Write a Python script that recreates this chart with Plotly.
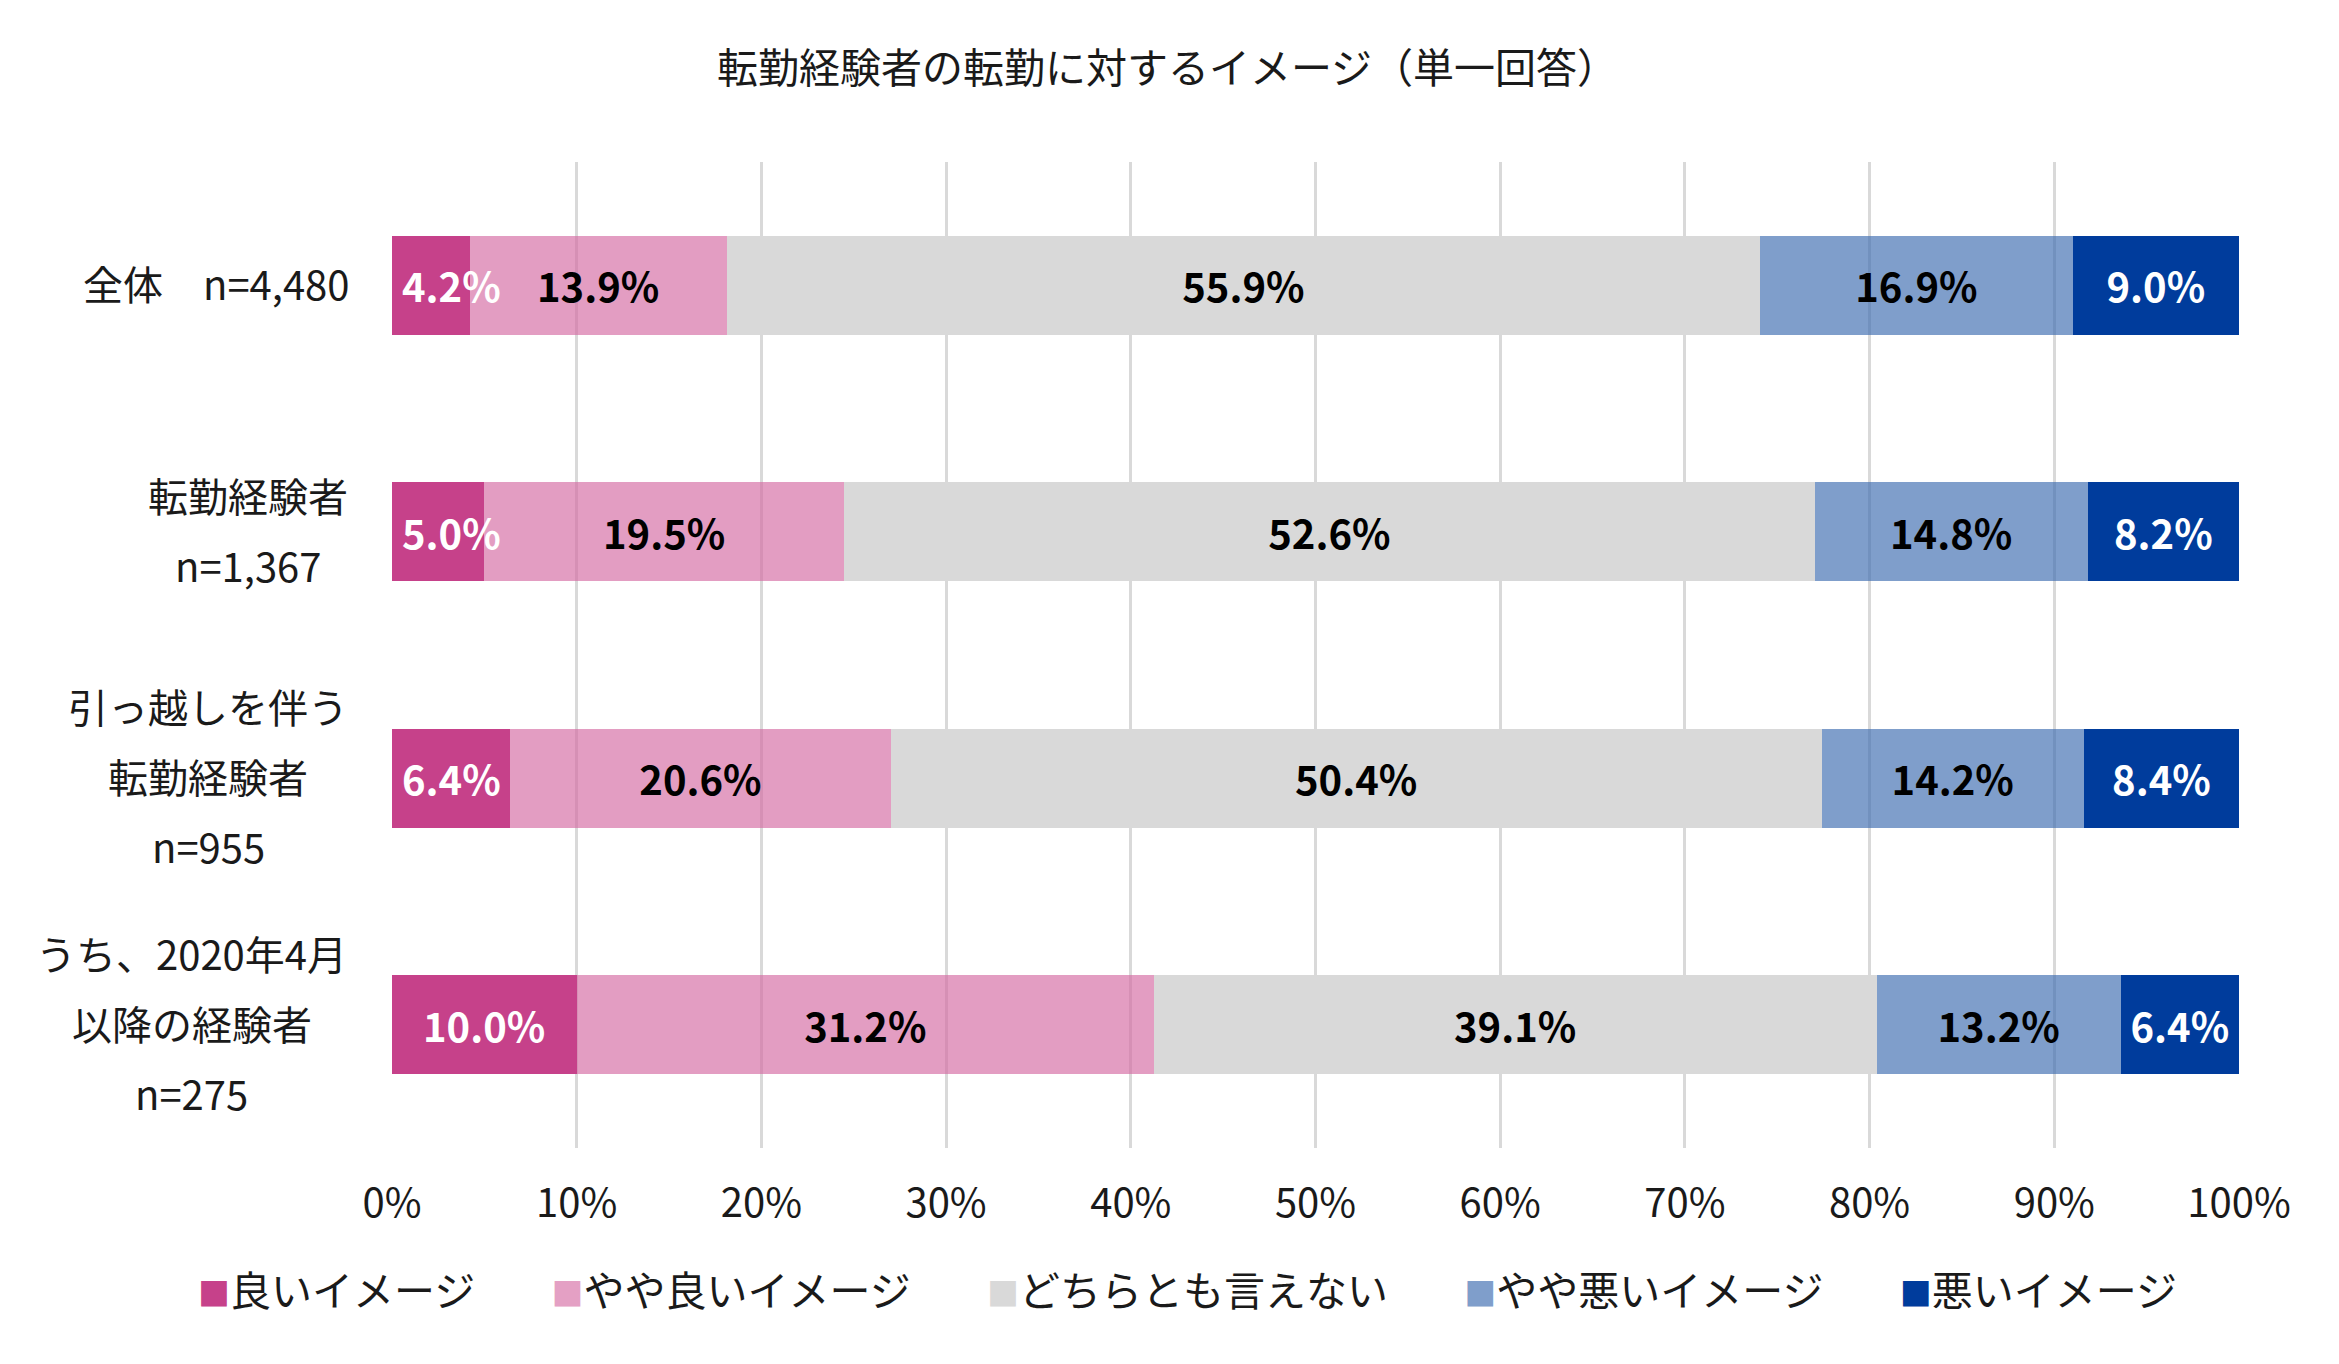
"""転勤経験者の転勤に対するイメージ（単一回答） - 100%積み上げ横棒."""
import plotly.graph_objects as go

TITLE = "転勤経験者の転勤に対するイメージ（単一回答）"

# カテゴリ（上から順）: 行ごとに分けたラベル
label_lines = [
    ["全体　n=4,480"],
    ["転勤経験者", "n=1,367"],
    ["引っ越しを伴う", "転勤経験者", "n=955"],
    ["うち、2020年4月", "以降の経験者", "n=275"],
]
categories = ["".join(lines) for lines in label_lines]

series_names = ["良いイメージ", "やや良いイメージ", "どちらとも言えない", "やや悪いイメージ", "悪いイメージ"]
good = [4.2, 5.0, 6.4, 10.0]
fairly_good = [13.9, 19.5, 20.6, 31.2]
neutral = [55.9, 52.6, 50.4, 39.1]
fairly_bad = [16.9, 14.8, 14.2, 13.2]
bad = [9.0, 8.2, 8.4, 6.4]

tick_values = [0, 10, 20, 30, 40, 50, 60, 70, 80, 90, 100]
tick_labels = ["0%", "10%", "20%", "30%", "40%", "50%", "60%", "70%", "80%", "90%", "100%"]

# 色: 棒(一部半透明でグリッドが透ける) / 凡例の四角 / ラベル文字
BAR_FILL = ["#C6418A", "rgba(212,104,161,0.65)", "#D9D9D9", "rgba(58,106,175,0.65)", "#003C9C"]
KEY_COLOR = ["#C6418A", "#E4A0C4", "#D9D9D9", "#7F9ECB", "#003C9C"]
LABEL_COLOR = ["#FFFFFF", "#000000", "#000000", "#000000", "#FFFFFF"]

FONT = "Noto Sans CJK JP"
TEXT_DARK = "#1a1a1a"

W, H = 2339, 1364
MARGIN = dict(l=384, r=108, t=154, b=224)
plot_w = W - MARGIN["l"] - MARGIN["r"]
plot_h = H - MARGIN["t"] - MARGIN["b"]

# カテゴリラベルの配置 (px)
LABEL_GAP = 44
LINE_STEP = 70
block_widths = [None, 200, 280, 313]
LABEL_FIT_PX = 100  # これより細い棒はラベルを左寄せ

fig = go.Figure()

values = [good, fairly_good, neutral, fairly_bad, bad]
for i, name in enumerate(series_names):
    fig.add_trace(
        go.Bar(
            x=values[i],
            y=categories,
            orientation="h",
            name=name,
            width=0.4,
            text=values[i],
            texttemplate="%{text:.1f}%",
            textposition="none" if i == 0 else "inside",
            insidetextanchor="middle",
            textangle=0,
            textfont=dict(family=FONT, size=40, color=LABEL_COLOR[i], weight="bold"),
            marker=dict(color=BAR_FILL[i], line=dict(width=0)),
            showlegend=False,
            hoverinfo="skip",
        )
    )

# 凡例: 大きめの四角を文字で描く
for i, name in enumerate(series_names):
    spacer = "" if i == len(series_names) - 1 else "\u2002\u2009\u200a"
    fig.add_trace(
        go.Scatter(
            x=[None],
            y=[None],
            mode="markers",
            marker=dict(color="rgba(0,0,0,0)", size=1),
            name=f"<span style='color:{KEY_COLOR[i]};font-size:32px'>■</span>{name}{spacer}",
            showlegend=True,
        )
    )

annotations = []

# 先頭系列のラベル: 収まらない場合は棒の左端から表示
for cat, v in zip(categories, good):
    fits = v / 100 * plot_w >= LABEL_FIT_PX
    annotations.append(
        dict(
            text=f"{v:.1f}%",
            x=v / 2 if fits else 0,
            xref="x",
            y=cat,
            yref="y",
            xanchor="center" if fits else "left",
            xshift=0 if fits else 8,
            yanchor="middle",
            showarrow=False,
            font=dict(family=FONT, size=40, color=LABEL_COLOR[0], weight="bold"),
        )
    )

for i, lines in enumerate(label_lines):
    n = len(lines)
    for j, line in enumerate(lines):
        yshift = ((n - 1) / 2 - j) * LINE_STEP + 2
        if block_widths[i] is None:
            xanchor, xshift = "right", -40
        else:
            xanchor, xshift = "center", -(LABEL_GAP + block_widths[i] / 2)
        annotations.append(
            dict(
                text=line,
                x=0,
                xref="paper",
                y=categories[i],
                yref="y",
                xanchor=xanchor,
                yanchor="middle",
                xshift=xshift,
                yshift=yshift,
                showarrow=False,
                font=dict(family=FONT, size=40, color=TEXT_DARK),
            )
        )

fig.update_layout(
    width=W,
    height=H,
    barmode="stack",
    barnorm="percent",
    plot_bgcolor="white",
    paper_bgcolor="white",
    font=dict(family=FONT, size=40, color=TEXT_DARK),
    title=dict(
        text=TITLE,
        x=0.5 - 10 / W,
        xref="container",
        xanchor="center",
        y=1 - 61 / H,
        yref="container",
        yanchor="middle",
        font=dict(family=FONT, size=41, color=TEXT_DARK),
    ),
    margin=MARGIN,
    uniformtext=dict(minsize=40, mode="show"),
    xaxis=dict(
        range=[0, 100],
        tickmode="array",
        tickvals=tick_values,
        ticktext=tick_labels,
        showgrid=True,
        gridcolor="#D9D9D9",
        gridwidth=3,
        zeroline=False,
        showline=False,
        ticks="",
        ticklabelstandoff=28,
        tickfont=dict(family=FONT, size=40, color=TEXT_DARK),
        fixedrange=True,
    ),
    yaxis=dict(
        categoryorder="array",
        categoryarray=categories,
        range=[3.5, -0.5],
        showticklabels=False,
        showgrid=False,
        zeroline=False,
        showline=False,
        ticks="",
        fixedrange=True,
    ),
    legend=dict(
        orientation="h",
        xref="paper",
        x=(150 - MARGIN["l"]) / plot_w,
        xanchor="left",
        yref="paper",
        y=-(1282 - (H - MARGIN["b"])) / plot_h,
        yanchor="middle",
        itemwidth=30,
        font=dict(family=FONT, size=41, color=TEXT_DARK),
        bgcolor="rgba(0,0,0,0)",
        traceorder="normal",
    ),
    annotations=annotations,
)

fig.write_html("out.html")
